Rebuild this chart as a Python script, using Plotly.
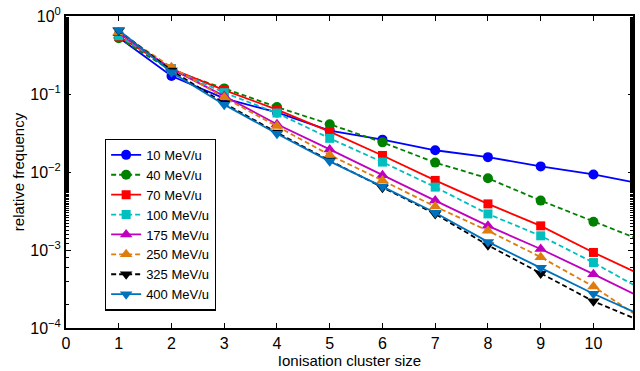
import plotly.graph_objects as go

cluster_size = [1, 2, 3, 4, 5, 6, 7, 8, 9, 10, 11]
f10 = [0.53, 0.17, 0.088, 0.058, 0.034, 0.026, 0.019, 0.0155, 0.0118, 0.0093, 0.0069]
f40 = [0.52, 0.20, 0.118, 0.068, 0.041, 0.024, 0.0132, 0.0083, 0.0043, 0.0023, 0.00126]
f70 = [0.55, 0.21, 0.112, 0.063, 0.033, 0.0163, 0.0078, 0.0039, 0.00204, 0.00093, 0.00045]
f100 = [0.56, 0.21, 0.104, 0.057, 0.027, 0.0134, 0.0064, 0.0029, 0.00152, 0.00069, 0.00029]
f175 = [0.60, 0.21, 0.094, 0.041, 0.0195, 0.0091, 0.0043, 0.00204, 0.00103, 0.00049, 0.00023]
f250 = [0.62, 0.22, 0.090, 0.039, 0.0165, 0.0078, 0.0036, 0.00177, 0.00081, 0.00034, 0.00012]
f325 = [0.65, 0.20, 0.076, 0.032, 0.014, 0.0063, 0.0029, 0.00115, 0.0005, 0.00022, 0.000115]
f400 = [0.66, 0.19, 0.073, 0.031, 0.0137, 0.0065, 0.0030, 0.00127, 0.00059, 0.000275, 0.000137]

names = ["10 MeV/u", "40 MeV/u", "70 MeV/u", "100 MeV/u",
         "175 MeV/u", "250 MeV/u", "325 MeV/u", "400 MeV/u"]
series = [f10, f40, f70, f100, f175, f250, f325, f400]
colors = ["#0000FF", "#008000", "#FF0000", "#00BFBF",
          "#BF00BF", "#DE7D0E", "#000000", "#0072BD"]
dashes = ["solid", "5px,3px", "solid", "5px,3px",
          "solid", "5px,3px", "5px,3px", "solid"]
symbols = ["circle", "circle", "square", "square",
           "triangle-up", "triangle-up", "triangle-down", "triangle-down"]
sizes = [10, 10, 9, 9, 11, 11, 11, 11]

ytick_vals = [1e-4, 1e-3, 1e-2, 1e-1, 1]
ytick_text = ["10<sup>\u22124</sup>", "10<sup>\u22123</sup>", "10<sup>\u22122</sup>",
              "10<sup>\u22121</sup>", "10<sup>0</sup>"]

FONT = "Liberation Sans, Arial, Helvetica, sans-serif"

fig = go.Figure()
for name, ys, c, d, s, sz in zip(names, series, colors, dashes, symbols, sizes):
    fig.add_trace(go.Scatter(
        x=cluster_size, y=ys, name=name, mode="lines+markers",
        line=dict(color=c, width=1.8, dash=d),
        marker=dict(color=c, symbol=s, size=sz, line=dict(width=0)),
        cliponaxis=True,
    ))

fig.update_layout(
    width=640, height=371,
    margin=dict(l=66, r=5, t=15, b=43),
    paper_bgcolor="white", plot_bgcolor="white",
    font=dict(family=FONT, color="black", size=16),
    showlegend=True,
    legend=dict(
        x=0.0685, y=0.607, xanchor="left", yanchor="top",
        bgcolor="white", bordercolor="black", borderwidth=1.3,
        font=dict(family=FONT, size=13, color="black"),
        itemwidth=30, tracegroupgap=0,
    ),
    xaxis=dict(
        range=[0, 10.75], tickmode="linear", tick0=0, dtick=1,
        ticks="inside", ticklen=5, tickwidth=1.3, tickcolor="black",
        showline=True, linecolor="black", linewidth=2, mirror="allticks",
        showgrid=False, zeroline=False,
        tickfont=dict(size=16, family=FONT),
        title=dict(text="Ionisation cluster size", font=dict(size=15, family=FONT), standoff=0),
    ),
    yaxis=dict(
        type="log", range=[-4, 0],
        tickmode="array", tickvals=ytick_vals, ticktext=ytick_text,
        ticks="inside", ticklen=5, tickwidth=1.3, tickcolor="black",
        minor=dict(ticks="inside", ticklen=3, tickwidth=1, tickcolor="black", showgrid=False),
        showline=True, linecolor="black", linewidth=2, mirror="allticks",
        showgrid=False, zeroline=False,
        tickfont=dict(size=16, family=FONT),
        title=dict(text="relative frequency", font=dict(size=15, family=FONT), standoff=2),
    ),
)

fig.write_html("out.html")
